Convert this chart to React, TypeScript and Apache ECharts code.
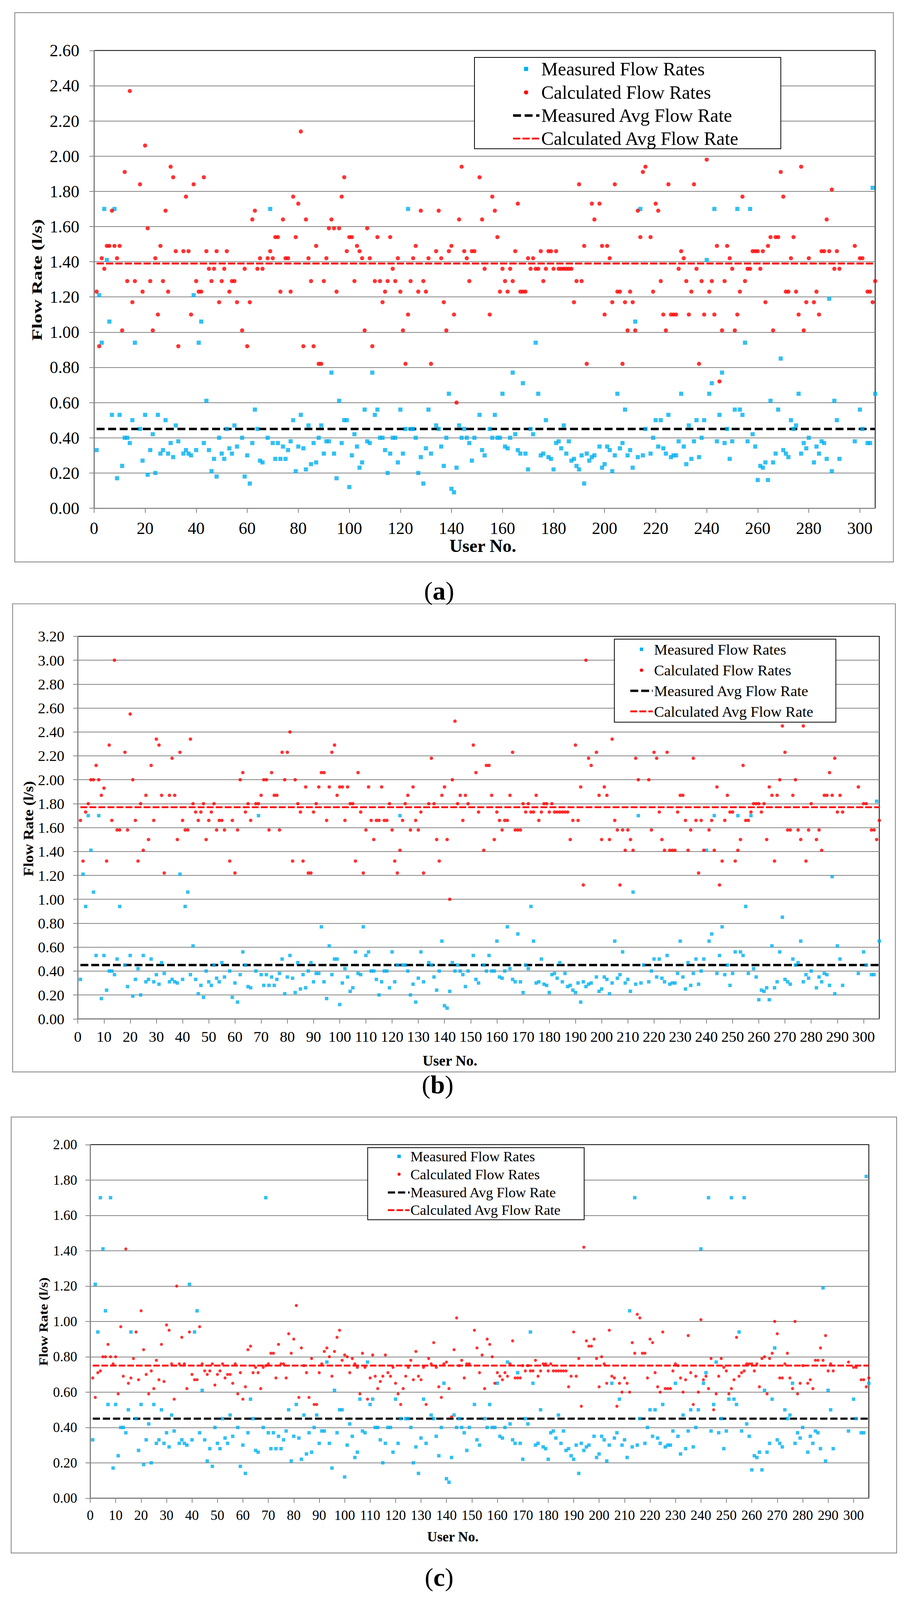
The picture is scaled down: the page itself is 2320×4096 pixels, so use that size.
import React, { useEffect, useRef } from 'react';
import * as echarts from 'echarts';

// ---------------- data ----------------
const users: number[] = Array.from({ length: 306 }, (_, i) => i + 1);

const measured: (number | null)[] = [
  0.33, 1.21, 0.94, 1.70, 1.41, 1.06, 0.53, 1.70, 0.17, 0.53,
  0.24, 0.40, 0.40, 0.37, 0.50, 0.94, null, 0.45, 0.27, 0.53,
  0.19, 0.33, 0.42, 0.20, 0.53, 0.31, 0.33, 0.50, 0.31, 0.37,
  0.29, 0.47, 0.38, null, 0.31, 0.33, 0.31, 0.30, 1.21, 0.33,
  0.94, 1.06, 0.37, 0.61, 0.33, 0.21, 0.28, 0.18, 0.40, 0.31,
  0.28, 0.45, 0.34, 0.31, 0.47, 0.35, null, 0.40, 0.18, 0.30,
  0.14, 0.37, 0.56, 0.45, 0.27, 0.26, null, 0.40, 1.70, 0.37,
  0.28, 0.37, 0.28, 0.35, 0.28, 0.33, 0.38, 0.50, 0.21, 0.35,
  0.53, 0.34, 0.22, 0.47, 0.25, 0.37, 0.26, 0.40, 0.47, 0.31,
  0.38, 0.38, 0.77, 0.31, 0.17, 0.61, 0.37, 0.50, 0.50, 0.12,
  0.30, 0.42, 0.35, 0.23, 0.26, 0.56, 0.38, 0.37, 0.77, 0.53,
  0.56, 0.40, 0.40, 0.33, 0.20, 0.31, 0.40, 0.40, 0.26, 0.56,
  0.31, 0.45, 1.70, 0.45, 0.45, 0.40, 0.20, 0.29, 0.14, 0.34,
  0.56, 0.31, null, 0.47, 0.45, 0.35, 0.24, 0.40, 0.65, 0.11,
  0.09, 0.23, 0.47, 0.40, 0.45, 0.40, 0.37, 0.27, 0.40, null,
  0.53, 0.33, 0.30, null, 0.45, 0.40, 0.53, 0.40, 0.40, 0.65,
  0.35, 0.34, 0.40, 0.77, 0.42, 0.33, 0.31, 0.71, 0.31, 0.22,
  0.45, 0.42, 0.94, 0.65, 0.30, 0.31, 0.50, 0.29, 0.28, 0.22,
  0.37, 0.38, 0.34, 0.47, 0.31, 0.38, 0.27, 0.28, 0.24, 0.22,
  0.30, 0.14, 0.31, 0.27, 0.29, 0.30, null, 0.35, 0.23, 0.25,
  0.35, 0.33, 0.21, 0.30, 0.65, 0.34, 0.37, 0.56, 0.30, 0.33,
  0.23, 1.06, 0.29, 1.70, 0.30, 0.45, null, 0.31, 0.40, 0.50,
  0.35, 0.50, 0.34, 0.31, 0.53, 0.29, 0.30, 0.30, 0.38, 0.65,
  0.35, 0.25, 0.47, 0.28, 0.38, 0.50, 0.29, 0.40, 0.50, 1.41,
  0.65, 0.71, 1.70, 0.38, 0.53, 0.77, 0.37, 0.45, 0.28, 0.38,
  0.56, 1.70, 0.56, 0.53, 0.94, 0.38, 1.70, 0.42, 0.35, 0.16,
  0.24, 0.23, 0.26, 0.16, 0.61, 0.26, 0.31, 0.56, 0.85, 0.33,
  0.31, 0.29, 0.50, 0.45, 0.47, 0.65, 0.31, 0.37, 0.34, 0.40,
  null, 0.26, 0.35, 0.31, 0.38, 0.37, 0.28, 1.19, 0.21, 0.61,
  0.50, 0.28, null, null, null, null, null, 0.38, null, 0.56,
  0.45, null, 0.37, 0.37, 1.82, 0.65,
];

const calculatedA: (number | null)[] = [
  1.23, 0.92, 1.42, 1.36, 1.49, 1.49, 1.69, 1.49, 1.42, 1.49,
  1.01, 1.91, 1.29, 2.37, 1.17, 1.29, null, 1.84, 1.23, 2.06,
  1.59, 1.29, 1.01, 1.42, 1.10, 1.49, 1.29, 1.69, 1.23, 1.94,
  1.88, 1.46, 0.92, null, 1.46, 1.77, 1.46, 1.10, 1.84, 1.29,
  1.23, 1.23, 1.88, 1.46, 1.36, 1.29, 1.36, 1.46, 1.17, 1.29,
  1.36, 1.46, 1.23, 1.29, 1.29, 1.17, null, 1.01, 1.36, 0.92,
  1.17, 1.64, 1.69, 1.36, 1.42, 1.36, null, 1.42, 1.46, 1.42,
  1.54, 1.54, 1.23, 1.64, 1.42, 1.42, 1.23, 1.77, 1.54, 1.73,
  2.14, 0.92, 1.64, 1.42, 1.29, 0.92, 1.49, 0.82, 0.82, 1.29,
  1.42, 1.59, 1.64, 1.59, 1.23, 1.59, 1.77, 1.88, 1.46, 1.54,
  1.54, 1.29, 1.49, 1.46, 1.42, 1.01, 1.59, 1.42, 0.92, 1.29,
  1.54, 1.29, 1.17, 1.23, 1.29, 1.54, 1.36, 1.29, 1.42, 1.23,
  1.01, 0.82, 1.10, 1.29, 1.42, 1.49, 1.23, 1.69, 1.29, 1.23,
  1.42, 0.82, null, 1.46, 1.69, 1.42, 1.17, 1.01, 1.46, 1.49,
  1.10, 0.60, 1.64, 1.94, 1.46, 1.42, 1.29, 1.46, 1.46, null,
  1.88, 1.64, 1.36, null, 1.10, 1.77, 1.69, 1.54, 1.23, 1.36,
  1.29, 1.23, 1.36, 1.29, 1.46, 1.73, 1.23, 1.23, 1.23, 1.42,
  1.36, 1.42, 1.36, 1.36, 1.46, 1.29, 1.36, 1.46, 1.46, 1.36,
  1.46, 1.36, 1.36, 1.36, 1.36, 1.36, 1.36, 1.17, 1.29, 1.84,
  1.29, 1.49, 0.82, 2.37, 1.73, 1.64, null, 1.73, 1.49, 1.10,
  1.49, 1.42, 1.17, 1.84, 1.23, 1.23, 0.82, 1.17, 1.01, 1.23,
  1.17, 1.01, 1.69, 1.54, 1.91, 1.94, null, 1.54, 1.23, 1.73,
  1.69, 1.29, 1.10, 1.01, 1.84, 1.10, 1.10, 1.10, 1.36, 1.46,
  1.42, 1.29, 1.10, 1.23, 1.84, 1.36, 0.82, 1.29, 1.10, 1.98,
  1.23, 1.29, 1.10, 1.49, 0.72, 1.01, 1.29, 1.49, 1.42, 1.36,
  1.01, 1.10, 1.23, 1.77, 1.29, 1.36, 1.36, 1.46, 1.46, 1.46,
  1.36, 1.46, 1.17, 1.49, 1.54, 1.01, 1.54, 1.54, 1.91, 1.77,
  1.23, 1.23, 1.42, 1.54, 1.23, 1.10, 1.94, 1.01, 1.17, 1.42,
  null, 1.17, 1.23, 1.10, 1.46, 1.46, 1.64, 1.46, 1.81, 1.36,
  1.46, 1.36, null, null, null, null, null, 1.49, null, 1.42,
  1.42, null, 1.23, 1.23, 1.17, 1.29,
];

const calculatedB: (number | null)[] = [
  1.66, 1.32, 1.73, 1.80, 2.00, 2.00, 2.12, 2.00, 1.87, 1.93,
  1.32, 2.29, 1.66, 3.00, 1.58, 1.58, null, 2.23, 1.58, 2.55,
  2.00, 1.66, 1.32, 1.80, 1.41, 1.87, 1.50, 2.12, 1.66, 2.34,
  2.29, 1.87, 1.22, null, 1.87, 2.18, 1.87, 1.50, 2.23, 1.66,
  1.58, 1.58, 2.34, 1.80, 1.73, 1.66, 1.73, 1.80, 1.50, 1.66,
  1.73, 1.80, 1.58, 1.66, 1.66, 1.58, null, 1.32, 1.66, 1.22,
  1.58, 2.00, 2.06, 1.73, 1.80, 1.66, null, 1.80, 1.80, 1.87,
  2.00, 2.00, 1.58, 2.06, 1.87, 1.87, 1.58, 2.23, 2.00, 2.23,
  2.40, 1.32, 2.00, 1.80, 1.73, 1.32, 1.94, 1.22, 1.22, 1.73,
  1.80, 1.94, 2.06, 2.06, 1.66, 1.94, 2.23, 2.29, 1.87, 1.94,
  1.94, 1.66, 1.94, 1.80, 1.80, 1.32, 2.06, 1.73, 1.22, 1.58,
  1.94, 1.66, 1.50, 1.66, 1.66, 1.94, 1.66, 1.66, 1.80, 1.58,
  1.32, 1.22, 1.41, 1.66, 1.80, 1.87, 1.58, 1.94, 1.66, 1.58,
  1.73, 1.22, null, 1.80, 2.18, 1.80, 1.50, 1.32, 1.87, 1.94,
  1.50, 1.00, 2.00, 2.49, 1.80, 1.87, 1.66, 1.87, 1.80, null,
  2.29, 2.06, 1.73, null, 1.41, 2.12, 2.12, 1.87, 1.50, 1.73,
  1.66, 1.58, 1.66, 1.66, 1.87, 2.23, 1.58, 1.58, 1.58, 1.80,
  1.73, 1.80, 1.73, 1.73, 1.87, 1.66, 1.73, 1.80, 1.80, 1.73,
  1.80, 1.73, 1.73, 1.73, 1.73, 1.73, 1.73, 1.50, 1.66, 2.29,
  1.66, 1.94, 1.12, 3.00, 2.18, 2.12, null, 2.23, 1.87, 1.50,
  1.94, 1.87, 1.50, 2.34, 1.66, 1.58, 1.12, 1.58, 1.41, 1.58,
  1.50, 1.41, 2.18, 2.00, 2.60, 2.60, null, 2.00, 1.58, 2.23,
  2.18, 1.73, 1.50, 1.41, 2.23, 1.41, 1.41, 1.41, 1.73, 1.87,
  1.87, 1.66, 1.41, 1.58, 2.18, 1.66, 1.22, 1.66, 1.41, 2.60,
  1.58, 1.66, 1.41, 1.94, 1.12, 1.32, 1.66, 1.87, 1.73, 1.73,
  1.32, 1.41, 1.50, 2.12, 1.66, 1.66, 1.73, 1.80, 1.80, 1.80,
  1.73, 1.80, 1.50, 1.94, 1.87, 1.32, 1.87, 2.00, 2.45, 2.23,
  1.58, 1.58, 1.87, 2.00, 1.58, 1.50, 2.45, 1.32, 1.58, 1.80,
  null, 1.50, 1.58, 1.41, 1.87, 1.87, 2.06, 1.87, 2.18, 1.73,
  1.87, 1.73, null, null, null, null, null, 1.94, null, 1.80,
  1.80, null, 1.58, 1.58, 1.50, 1.66,
];

const calculatedC: (number | null)[] = [
  0.68, 0.57, 0.71, 0.72, 0.80, 0.80, 0.87, 0.80, 0.76, 0.80,
  0.59, 0.97, 0.69, 1.41, 0.65, 0.68, 0.79, 0.94, 0.67, 1.06,
  0.84, 0.70, 0.59, 0.72, 0.62, 0.78, 0.67, 0.87, 0.66, 0.98,
  0.95, 0.76, 0.56, 1.20, 0.76, 0.91, 0.76, 0.62, 0.94, 0.70,
  0.67, 0.67, 0.97, 0.76, 0.72, 0.70, 0.72, 0.76, 0.64, 0.70,
  0.72, 0.76, 0.68, 0.70, 0.70, 0.65, 0.76, 0.59, 0.71, 0.56,
  0.63, 0.84, 0.86, 0.71, 0.74, 0.71, 0.62, 0.74, 0.75, 0.76,
  0.82, 0.82, 0.68, 0.87, 0.76, 0.76, 0.68, 0.93, 0.82, 0.90,
  1.09, 0.57, 0.85, 0.75, 0.71, 0.57, 0.79, 0.53, 0.53, 0.71,
  0.76, 0.83, 0.85, 0.80, 0.69, 0.83, 0.91, 0.95, 0.78, 0.81,
  0.80, 0.71, 0.79, 0.76, 0.74, 0.59, 0.82, 0.74, 0.56, 0.68,
  0.81, 0.69, 0.62, 0.66, 0.69, 0.81, 0.71, 0.69, 0.74, 0.65,
  0.59, 0.53, 0.62, 0.69, 0.74, 0.78, 0.67, 0.83, 0.69, 0.67,
  0.74, 0.53, 0.79, 0.76, 0.88, 0.74, 0.63, 0.57, 0.76, 0.77,
  0.62, 0.46, 0.84, 1.02, 0.75, 0.78, 0.68, 0.76, 0.76, null,
  0.95, 0.85, 0.71, 0.81, 0.62, 0.90, 0.87, 0.80, 0.65, 0.71,
  0.69, 0.67, 0.71, 0.69, 0.76, 0.89, 0.68, 0.68, 0.68, 0.75,
  0.72, 0.75, 0.72, 0.72, 0.78, 0.69, 0.72, 0.76, 0.76, 0.72,
  0.76, 0.72, 0.72, 0.72, 0.72, 0.72, 0.72, 0.63, 0.69, 0.94,
  0.69, 0.79, 0.52, 1.42, 0.89, 0.86, 0.86, 0.90, 0.79, 0.63,
  0.80, 0.76, 0.65, 0.95, 0.69, 0.68, 0.52, 0.65, 0.60, 0.68,
  0.65, 0.60, 0.88, 0.82, 1.04, 1.02, 0.82, 0.82, 0.68, 0.90,
  0.88, 0.71, 0.63, 0.60, 0.94, 0.62, 0.62, 0.62, 0.72, 0.76,
  0.75, 0.68, 0.60, 0.67, 0.92, 0.71, 0.53, 0.69, 0.60, 1.01,
  0.67, 0.69, 0.62, 0.79, 0.50, 0.59, 0.69, 0.79, 0.74, 0.72,
  0.59, 0.62, 0.67, 0.91, 0.69, 0.71, 0.72, 0.76, 0.76, 0.76,
  0.72, 0.76, 0.63, 0.79, 0.80, 0.59, 0.79, 0.82, 1.00, 0.93,
  0.68, 0.68, 0.76, 0.82, 0.68, 0.62, 1.00, 0.59, 0.65, 0.75,
  null, 0.65, 0.67, 0.62, 0.78, 0.78, 0.85, 0.78, 0.92, 0.72,
  0.76, 0.72, null, null, null, null, null, 0.77, null, 0.74,
  0.74, null, 0.67, 0.67, 0.63, 0.68,
];

const calculatedSets = [calculatedA, calculatedB, calculatedC];
const measuredAvg = 0.45;
const calculatedAvg = [1.39, 1.77, 0.75];
const yMaxima = [2.6, 3.2, 2.0];
const xTicksA = [0, 20, 40, 60, 80, 100, 120, 140, 160, 180, 200, 220, 240, 260, 280, 300];
const xTicksBC = [0, 10, 20, 30, 40, 50, 60, 70, 80, 90, 100, 110, 120, 130, 140, 150, 160, 170, 180, 190, 200, 210, 220, 230, 240, 250, 260, 270, 280, 290, 300];
const xTickSets = [xTicksA, xTicksBC, xTicksBC];
const legendNames = ['Measured Flow Rates', 'Calculated Flow Rates', 'Measured Avg Flow Rate', 'Calculated Avg Flow Rate'];
const panelLetters = ['a', 'b', 'c'];
const yTitle = 'Flow Rate (l/s)';
const xTitle = 'User No.';

// ---------------- layout (reference pixels, scaled to window) ----------------
const W = 2320;
const H = 4096;
const S = 2320 / 2511;
const f = (v: number) => v * S;

const FONT = "'Liberation Serif', 'Times New Roman', Times, serif";
const BLUE = '#00B0F0';
const RED = '#FF0000';
const GRID_GRAY = '#868686';
const BOX_GRAY = '#8a8a8a';

const PANELS = [
  {
    box: [41, 35, 2476, 1557], grid: [260.7, 140, 2425.6, 1408],
    tickFont: 47, yLabelGap: 40.7, xLabelCenter: 56,
    yT: { cx: 102.7, cy: 775.5, len: 337, font: 39 },
    xT: { cx: 1338, cy: 1513, font: 50 },
    lg: { box: [1315, 159, 2164, 412], rows: [191, 256, 320, 384], line: [1422, 1495], marker: 1458, text: 1500, font: 52 },
    sq: 11.5, dot: 11.5, blackW: 7, redW: 5, blackDash: [22, 10], redDash: [20, 6],
    label: { cx: 1217, cy: 1637, font: 72 },
  },
  {
    box: [35, 1673, 2481.6, 2970], grid: [215.6, 1763, 2437, 2823],
    tickFont: 42, yLabelGap: 37, xLabelCenter: 49,
    yT: { cx: 78, cy: 2296, len: 264, font: 39.5 },
    xT: { cx: 1247, cy: 2938, font: 41 },
    lg: { box: [1702.7, 1771, 2316.6, 2001], rows: [1799, 1857, 1914, 1971], line: [1747, 1809], marker: 1778, text: 1812.6, font: 42 },
    sq: 9.5, dot: 9.5, blackW: 6.5, redW: 5, blackDash: [22, 8], redDash: [19, 6],
    label: { cx: 1213, cy: 3005, font: 72 },
  },
  {
    box: [31, 3095, 2485, 4303], grid: [250, 3171.6, 2408, 4151],
    tickFont: 38.3, yLabelGap: 36, xLabelCenter: 48,
    yT: { cx: 120.5, cy: 3662, len: 245, font: 34 },
    xT: { cx: 1255, cy: 4258, font: 38.5 },
    lg: { box: [1019, 3180, 1619, 3379.5], rows: [3204, 3253.5, 3304, 3353], line: [1075, 1135], marker: 1106, text: 1137.5, font: 39.6 },
    sq: 9.5, dot: 8.5, blackW: 6, redW: 5, blackDash: [20, 8], redDash: [18, 6],
    label: { cx: 1217, cy: 4370, font: 72 },
  },
];

function textWidth(text: string, font: string): number {
  const ctx = document.createElement('canvas').getContext('2d');
  if (!ctx) return text.length * 20;
  ctx.font = font;
  return ctx.measureText(text).width;
}

function pairs(arr: (number | null)[]): number[][] {
  const out: number[][] = [];
  users.forEach((u, k) => {
    const v = arr[k];
    if (v !== null && v !== undefined) out.push([u, v]);
  });
  return out;
}

function textStyle(text: string, size: number, extra: any = {}) {
  return {
    text,
    x: 0,
    y: 0,
    fontSize: size,
    fontFamily: FONT,
    fill: '#000',
    align: 'left',
    verticalAlign: 'middle',
    textAlign: 'left',
    textVerticalAlign: 'middle',
    ...extra,
  };
}

function buildOption() {
  const grid: any[] = [];
  const xAxis: any[] = [];
  const yAxis: any[] = [];
  const series: any[] = [];
  const elements: any[] = [];

  PANELS.forEach((p, i) => {
    const gx0 = f(p.grid[0]);
    const gy0 = f(p.grid[1]);
    const gx1 = f(p.grid[2]);
    const gy1 = f(p.grid[3]);
    const tickFont = f(p.tickFont);

    grid.push({
      left: gx0, top: gy0, width: gx1 - gx0, height: gy1 - gy0,
      show: true, borderColor: '#000', borderWidth: 2, backgroundColor: 'rgba(0,0,0,0)',
      containLabel: false,
    });

    xAxis.push({
      type: 'value', gridIndex: i, min: 0, max: 306, z: 1,
      axisLine: { show: true, onZero: false, lineStyle: { color: GRID_GRAY, width: 2.5 } },
      axisTick: { show: true, length: f(13), customValues: xTickSets[i], lineStyle: { color: GRID_GRAY, width: 2 } },
      axisLabel: {
        show: true, customValues: xTickSets[i], fontFamily: FONT, fontSize: tickFont, color: '#000',
        margin: f(p.xLabelCenter) - tickFont / 2,
      },
      splitLine: { show: false },
    });

    yAxis.push({
      type: 'value', gridIndex: i, min: 0, max: yMaxima[i], interval: 0.2, z: 1,
      axisLine: { show: true, onZero: false, lineStyle: { color: GRID_GRAY, width: 2.5 } },
      axisTick: { show: true, length: f(13), lineStyle: { color: GRID_GRAY, width: 2 } },
      axisLabel: {
        fontFamily: FONT, fontSize: tickFont, color: '#000', margin: f(p.yLabelGap),
        formatter: (v: number) => v.toFixed(2),
      },
      splitLine: { show: true, showMaxLine: false, lineStyle: { color: GRID_GRAY, width: 2 } },
    });

    series.push(
      {
        type: 'line', name: legendNames[2], xAxisIndex: i, yAxisIndex: i,
        data: [[1, measuredAvg], [306, measuredAvg]], symbol: 'none', silent: true, z: 1,
        lineStyle: { color: '#000', width: f(p.blackW), type: p.blackDash.map(f) },
      },
      {
        type: 'line', name: legendNames[3], xAxisIndex: i, yAxisIndex: i,
        data: [[1, calculatedAvg[i]], [306, calculatedAvg[i]]], symbol: 'none', silent: true, z: 1,
        lineStyle: { color: RED, width: f(p.redW), type: p.redDash.map(f) },
      },
      {
        type: 'scatter', name: legendNames[0], xAxisIndex: i, yAxisIndex: i,
        data: pairs(measured), symbol: 'rect', symbolSize: f(p.sq), z: 3, silent: true,
        itemStyle: { color: BLUE },
      },
      {
        type: 'scatter', name: legendNames[1], xAxisIndex: i, yAxisIndex: i,
        data: pairs(calculatedSets[i]), symbol: 'circle', symbolSize: f(p.dot), z: 3, silent: true,
        itemStyle: { color: RED },
      },
    );

    // outer chart-area box
    elements.push({
      type: 'rect', z: 0, silent: true,
      shape: { x: f(p.box[0]), y: f(p.box[1]), width: f(p.box[2] - p.box[0]), height: f(p.box[3] - p.box[1]) },
      style: { fill: 'none', stroke: BOX_GRAY, lineWidth: 2.2 },
    });

    // legend
    const lg = p.lg;
    const lgFont = f(lg.font);
    elements.push({
      type: 'rect', z: 100, silent: true,
      shape: { x: f(lg.box[0]), y: f(lg.box[1]), width: f(lg.box[2] - lg.box[0]), height: f(lg.box[3] - lg.box[1]) },
      style: { fill: '#fff', stroke: '#000', lineWidth: 2 },
    });
    const sq = f(p.sq);
    elements.push({
      type: 'rect', z: 101, silent: true,
      shape: { x: f(lg.marker) - sq / 2, y: f(lg.rows[0]) - sq / 2, width: sq, height: sq },
      style: { fill: BLUE },
    });
    elements.push({
      type: 'circle', z: 101, silent: true,
      shape: { cx: f(lg.marker), cy: f(lg.rows[1]), r: f(p.dot) / 2 },
      style: { fill: RED },
    });
    elements.push({
      type: 'line', z: 101, silent: true,
      shape: { x1: f(lg.line[0]), y1: f(lg.rows[2]), x2: f(lg.line[1]), y2: f(lg.rows[2]) },
      style: { stroke: '#000', lineWidth: f(p.blackW), lineDash: p.blackDash.map(f) },
    });
    elements.push({
      type: 'line', z: 101, silent: true,
      shape: { x1: f(lg.line[0]), y1: f(lg.rows[3]), x2: f(lg.line[1]), y2: f(lg.rows[3]) },
      style: { stroke: RED, lineWidth: f(p.redW), lineDash: p.redDash.map(f) },
    });
    legendNames.forEach((name, k) => {
      elements.push({
        type: 'text', z: 102, silent: true, x: f(lg.text), y: f(lg.rows[k]),
        style: textStyle(name, lgFont),
      });
    });

    // y axis title (rotated, stretched along its length like the reference)
    const yFont = f(p.yT.font);
    const natural = textWidth(yTitle, `bold ${yFont}px 'Liberation Serif'`);
    const stretch = natural > 0 ? f(p.yT.len) / natural : 1;
    elements.push({
      type: 'text', z: 5, silent: true, x: f(p.yT.cx), y: f(p.yT.cy), rotation: Math.PI / 2, scaleX: stretch,
      style: textStyle(yTitle, yFont, { fontWeight: 'bold', align: 'center', textAlign: 'center' }),
    });

    // x axis title
    elements.push({
      type: 'text', z: 5, silent: true, x: f(p.xT.cx), y: f(p.xT.cy),
      style: textStyle(xTitle, f(p.xT.font), { fontWeight: 'bold', align: 'center', textAlign: 'center' }),
    });

    // panel label (a)/(b)/(c)
    const lf = f(p.label.font);
    elements.push({
      type: 'text', z: 5, silent: true, x: f(p.label.cx), y: f(p.label.cy),
      style: textStyle(`({b|${panelLetters[i]}})`, lf, {
        align: 'center', textAlign: 'center',
        rich: { b: { fontWeight: 'bold', fontSize: lf, fontFamily: FONT, fill: '#000' } },
      }),
    });
  });

  return {
    animation: false,
    backgroundColor: '#ffffff',
    textStyle: { fontFamily: FONT },
    grid,
    xAxis,
    yAxis,
    series,
    graphic: { elements },
  };
}

export default function App() {
  const ref = useRef<HTMLDivElement>(null);
  useEffect(() => {
    if (!ref.current) return undefined;
    const chart = echarts.init(ref.current, undefined, { renderer: 'svg', width: W, height: H });
    chart.setOption(buildOption() as any);
    return () => {
      chart.dispose();
    };
  }, []);
  return (
    <div
      ref={ref}
      style={{ position: 'absolute', left: 0, top: 0, width: W, height: H, background: '#ffffff' }}
    />
  );
}
